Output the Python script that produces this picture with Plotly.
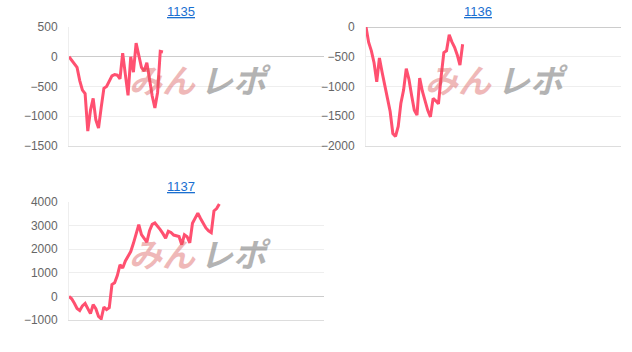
import plotly.graph_objects as go

titles = ["1135", "1136", "1137"]

values_1135 = [0, -60, -100, -180, -400, -560, -620, -1250, -900, -700, -1060, -1200,
               -850, -530, -500, -400, -320, -300, -310, -370, 60, -300, -650, 0,
               -260, 230, 50, -180, -240, -100, -380, -660, -860, -600, 90, 80]

values_1136 = [0, -260, -400, -600, -920, -520, -760, -960, -1200, -1420, -1790, -1840,
               -1670, -1280, -1060, -700, -880, -1150, -1400, -1480, -860, -1080, -1260,
               -1400, -1510, -1200, -1240, -1290, -830, -430, -400, -130, -250, -340,
               -470, -640, -290]

values_1137 = [0, -100, -290, -510, -600, -400, -300, -540, -730, -350, -520, -850,
               -950, -450, -560, -480, 500, 580, 880, 1340, 1200, 1500, 1720, 1900,
               2250, 2700, 3040, 2620, 2480, 2300, 2780, 3050, 3110, 2980, 2830, 2660,
               2470, 2760, 2710, 2600, 2570, 2540, 2190, 2610, 2530, 2270, 3100, 3300,
               3530, 3300, 3090, 2900, 2780, 2700, 3620, 3720, 3920]

y_ranges = [[-1500, 500], [-2000, 0], [-1000, 4000]]
y_dticks = [500, 500, 1000]

series = [values_1135, values_1136, values_1137]

W, H = 632, 352
boxes = [(69, 324, 27, 146), (366, 621, 27, 146), (69, 324, 202, 320)]
title_pos = [(181, 12), (478, 12), (181, 186)]

line_color = "#ff5070"
fig = go.Figure()
for i, vals in enumerate(series):
    k = "" if i == 0 else str(i + 1)
    fig.add_trace(go.Scatter(x=list(range(len(vals))), y=vals, mode="lines",
                             line=dict(color=line_color, width=3),
                             xaxis="x" + k, yaxis="y" + k, showlegend=False,
                             hoverinfo="skip"))
    x0, x1, y0, y1 = boxes[i]
    fig.layout["xaxis" + k] = dict(domain=[x0 / W, x1 / W], range=[0, 95],
                                   anchor="y" + k, showgrid=False, zeroline=False,
                                   showticklabels=False, showline=True, automargin=False,
                                   linecolor="#dddddd", linewidth=1, ticks="")
    fig.layout["yaxis" + k] = dict(domain=[1 - y1 / H, 1 - y0 / H], range=y_ranges[i],
                                   anchor="x" + k, dtick=y_dticks[i], tick0=0,
                                   showgrid=True, gridcolor="#eeeeee", gridwidth=1,
                                   zeroline=True, zerolinecolor="#cccccc", zerolinewidth=1,
                                   showline=True, linecolor="#eeeeee", linewidth=1,
                                   ticks="", ticklabelstandoff=8, automargin=False,
                                   tickfont=dict(family="Liberation Sans, Arial", size=12,
                                                 color="#666666"))
    tx, ty = title_pos[i]
    fig.add_annotation(x=tx / W, y=1 - ty / H, xref="paper", yref="paper",
                       text="<u>" + titles[i] + "</u>", showarrow=False,
                       font=dict(family="Liberation Sans, Arial", size=13, color="#1a6fd0"),
                       xanchor="center", yanchor="middle")
    cx = (x0 + x1) / 2
    wy = (y0 + y1) / 2 - 8
    fig.add_annotation(x=(cx + 1) / W, y=1 - wy / H, xref="paper", yref="paper",
                       text="<b><i>みん</i></b>", showarrow=False, opacity=0.4,
                       font=dict(family="Noto Sans CJK JP", size=33, color="#d85050"),
                       xanchor="right", yanchor="middle")
    fig.add_annotation(x=(cx + 1) / W, y=1 - wy / H, xref="paper", yref="paper",
                       text="<b><i>レポ</i></b>", showarrow=False, opacity=0.5,
                       font=dict(family="Noto Sans CJK JP", size=33, color="#6a6a6a"),
                       xanchor="left", yanchor="middle")

fig.update_layout(width=W, height=H, margin=dict(l=0, r=0, t=0, b=0, pad=0),
                  paper_bgcolor="white", plot_bgcolor="white")
fig.write_html("out.html")
